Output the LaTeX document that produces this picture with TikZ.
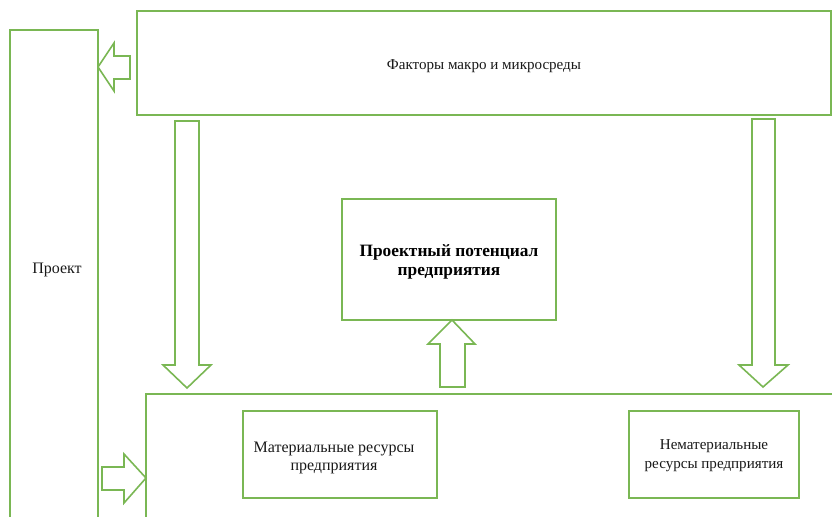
\documentclass[tikz,border=0pt]{standalone}
\usepackage{fontspec}
\setmainfont{Liberation Serif}
\definecolor{grn}{RGB}{122,183,84}
\definecolor{ink}{RGB}{25,25,25}
\begin{document}
\begin{tikzpicture}[x=0.75pt,y=-0.75pt,
  line/.style={draw=grn, line width=1.2pt, line join=miter},
  txt/.style={font=\fontsize{11.3}{14}\selectfont, align=center, inner sep=0pt, text=ink},
  mtxt/.style={font=\fontsize{12}{14}\selectfont, align=center, inner sep=0pt, text=ink},
  btxt/.style={font=\fontsize{13}{14.5}\selectfont\bfseries, align=center, inner sep=0pt, text=black}]
\useasboundingbox (0,0) rectangle (832,517);
\fill[white] (0,0) rectangle (832,517);
\begin{scope}
\clip (0,0) rectangle (832,517);
% boxes
\draw[line] (10,30) rectangle (98,545);
\draw[line] (137,11) rectangle (831,115);
\draw[line] (146,394) rectangle (860,545);
\draw[line] (342,199) rectangle (556,320);
\draw[line] (243,411) rectangle (437,498);
\draw[line] (629,411) rectangle (799,498);
% block arrows
\draw[line] (98,67) -- (114,43) -- (114,56) -- (130,56) -- (130,79) -- (114,79) -- (114,91) -- cycle;
\draw[line] (175,121) -- (199,121) -- (199,365) -- (211,365) -- (187,388) -- (163,365) -- (175,365) -- cycle;
\draw[line] (752,119) -- (775,119) -- (775,365) -- (788,365) -- (763,387) -- (739,365) -- (752,365) -- cycle;
\draw[line] (452,320) -- (475,344) -- (465,344) -- (465,387) -- (440,387) -- (440,344) -- (428,344) -- cycle;
\draw[line] (146,478) -- (124,503) -- (124,490) -- (102,490) -- (102,467) -- (124,467) -- (124,454) -- cycle;
\end{scope}
% texts
\node[mtxt] (proekt) at (57,270) {Проект};
\node[txt] (faktory) at (484,66) {Факторы макро и микросреды};
\node[btxt] (potencial) at (449,262) {Проектный потенциал\\предприятия};
\node[mtxt] (mat) at (334,458) {Материальные ресурсы\\предприятия};
\node[txt] (nemat) at (714,456) {Нематериальные\\ресурсы предприятия};
\end{tikzpicture}
\end{document}
